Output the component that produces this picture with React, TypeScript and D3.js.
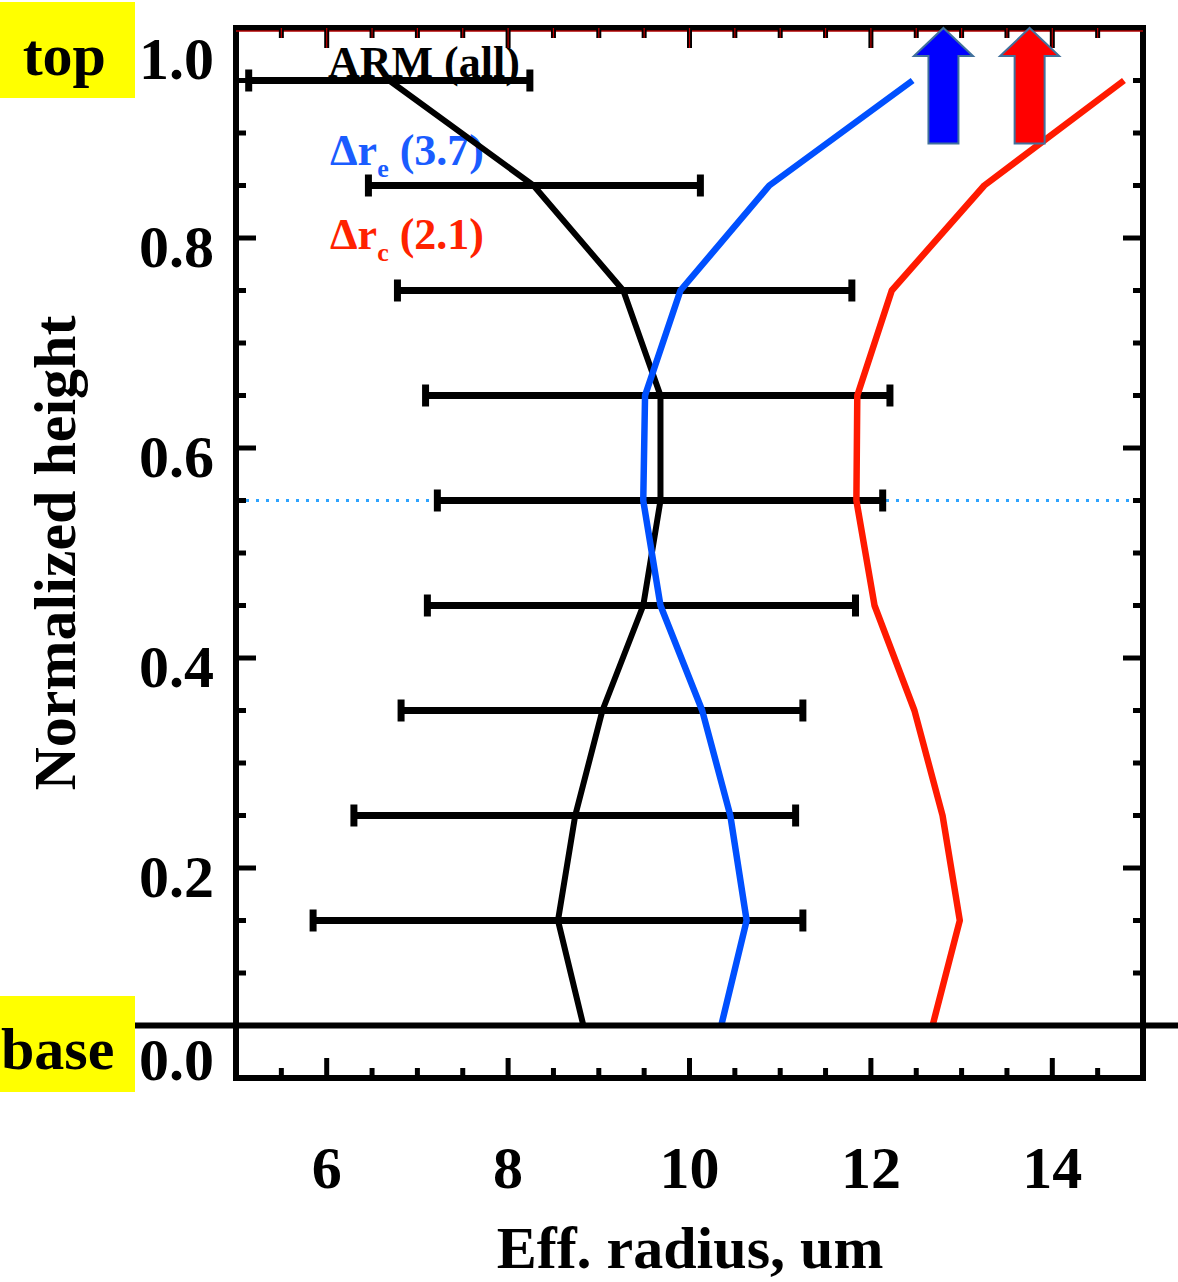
import React, { useEffect, useRef } from 'react';
import * as d3 from 'd3';

// heights (normalized) of the profile points, cloud base = 0.05
const levels = [0.95, 0.85, 0.75, 0.65, 0.55, 0.45, 0.35, 0.25, 0.15, 0.05];
// ARM (all) mean effective radius
const armMean = [6.69, 8.28, 9.27, 9.68, 9.68, 9.49, 9.04, 8.74, 8.55, 8.83];
// error bar ends (levels 0.95 .. 0.15)
const barLevels = [0.95, 0.85, 0.75, 0.65, 0.55, 0.45, 0.35, 0.25, 0.15];
const armLow = [5.14, 6.46, 6.78, 7.09, 7.22, 7.11, 6.82, 6.3, 5.85];
const armHigh = [8.24, 10.12, 11.79, 12.21, 12.13, 11.83, 11.25, 11.17, 11.25];
// shifted profiles
const reProfile = [12.46, 10.88, 9.9, 9.51, 9.49, 9.68, 10.14, 10.45, 10.63, 10.35];
const rcProfile = [14.79, 13.25, 12.23, 11.85, 11.84, 12.04, 12.48, 12.79, 12.98, 12.68];

const xTickLabels = [6, 8, 10, 12, 14];
const yTickLabels = [0.0, 0.2, 0.4, 0.6, 0.8, 1.0];
const dottedLevel = 0.55;
const baseLevel = 0.05;

// arrows at the top: x centre (um), tip and tail heights
const arrows = [
    { x: 12.8, color: '#0000ff' },
    { x: 13.75, color: '#ff0000' },
];
const arrowTip = 1.0;
const arrowTail = 0.89;

const FONT = '"Liberation Serif", "Times New Roman", serif';

function App() {
    const ref = useRef(null);

    useEffect(() => {
        drawChart(ref.current);
    }, []);

    return (
        <svg ref={ref} width={1178} height={1282}
            style={{ position: 'absolute', left: 0, top: 0, background: '#fff' }} />
    );
}

function drawChart(node) {
    const svg = d3.select(node);
    svg.selectAll('*').remove();

    const left = 236, right = 1143, top = 28, bottom = 1078;
    const x = d3.scaleLinear().domain([5, 15]).range([left, right]);
    const y = d3.scaleLinear().domain([0, 1]).range([bottom, top]);

    // yellow labels
    svg.append('rect').attr('x', 0).attr('y', 2).attr('width', 135).attr('height', 96).attr('fill', '#ffff00');
    svg.append('rect').attr('x', 0).attr('y', 996).attr('width', 135).attr('height', 96).attr('fill', '#ffff00');
    svg.append('text').attr('x', 106).attr('y', 75).attr('text-anchor', 'end')
        .attr('font-family', FONT).attr('font-weight', 'bold').attr('font-size', 60).text('top');
    svg.append('text').attr('x', 1).attr('y', 1069)
        .attr('font-family', FONT).attr('font-weight', 'bold').attr('font-size', 60).text('base');

    // legend texts
    svg.append('text').attr('x', 328).attr('y', 77)
        .attr('font-family', FONT).attr('font-weight', 'bold').attr('font-size', 44).attr('fill', '#000')
        .text('ARM (all)');
    const leg = [
        { txt: 'e', val: '(3.7)', color: '#1a5cff', yy: 165 },
        { txt: 'c', val: '(2.1)', color: '#ff2200', yy: 249 },
    ];
    leg.forEach((l) => {
        const t = svg.append('text').attr('x', 330).attr('y', l.yy)
            .attr('font-family', FONT).attr('font-weight', 'bold').attr('font-size', 44).attr('fill', l.color);
        t.append('tspan').text('\u0394r');
        t.append('tspan').attr('font-size', 26).attr('dy', 12).text(l.txt);
        t.append('tspan').attr('dy', -12).text(' ' + l.val);
    });

    // dotted line
    svg.append('line')
        .attr('x1', 246).attr('x2', right - 4)
        .attr('y1', y(dottedLevel)).attr('y2', y(dottedLevel))
        .attr('stroke', '#2ea3ff').attr('stroke-width', 3).attr('stroke-dasharray', '3 7');

    // error bars
    const bars = barLevels.map((h, i) => ({ h, lo: armLow[i], hi: armHigh[i] }));
    const bg = svg.append('g').attr('stroke', '#000');
    bg.selectAll('line.bar').data(bars).enter().append('line')
        .attr('class', 'bar')
        .attr('x1', (d) => x(d.lo)).attr('x2', (d) => x(d.hi))
        .attr('y1', (d) => y(d.h)).attr('y2', (d) => y(d.h))
        .attr('stroke-width', 7);
    bg.selectAll('line.capL').data(bars).enter().append('line')
        .attr('x1', (d) => x(d.lo)).attr('x2', (d) => x(d.lo))
        .attr('y1', (d) => y(d.h) - 11).attr('y2', (d) => y(d.h) + 11)
        .attr('stroke-width', 7);
    bg.selectAll('line.capR').data(bars).enter().append('line')
        .attr('x1', (d) => x(d.hi)).attr('x2', (d) => x(d.hi))
        .attr('y1', (d) => y(d.h) - 11).attr('y2', (d) => y(d.h) + 11)
        .attr('stroke-width', 7);

    // profile lines
    const line = d3.line().x((d) => x(d[0])).y((d) => y(d[1]));
    const series = [
        { vals: armMean, color: '#000000', w: 6 },
        { vals: reProfile, color: '#0050ff', w: 6.5 },
        { vals: rcProfile, color: '#ff1a00', w: 6.5 },
    ];
    series.forEach((s) => {
        svg.append('path')
            .attr('d', line(s.vals.map((v, i) => [v, levels[i]])))
            .attr('fill', 'none').attr('stroke', s.color).attr('stroke-width', s.w)
            .attr('stroke-linejoin', 'round');
    });

    // cloud base line
    svg.append('line')
        .attr('x1', 135).attr('x2', 1178)
        .attr('y1', y(baseLevel)).attr('y2', y(baseLevel))
        .attr('stroke', '#000').attr('stroke-width', 6);

    // frame
    svg.append('rect')
        .attr('x', left).attr('y', top).attr('width', right - left).attr('height', bottom - top)
        .attr('fill', 'none').attr('stroke', '#000').attr('stroke-width', 6);
    svg.append('line').attr('x1', left).attr('x2', right).attr('y1', top + 3).attr('y2', top + 3)
        .attr('stroke', '#b00000').attr('stroke-width', 1.5);

    // x ticks (bottom and top)
    const xt = d3.range(5.5, 15, 0.5);
    const isMajX = (v) => Math.abs(v % 2) < 1e-6;
    svg.append('g').selectAll('line').data(xt).enter().append('line')
        .attr('x1', (d) => x(d)).attr('x2', (d) => x(d))
        .attr('y1', bottom).attr('y2', (d) => bottom - (isMajX(d) ? 20 : 10))
        .attr('stroke', '#000').attr('stroke-width', 5);
    const topTicks = svg.append('g');
    topTicks.selectAll('line.k').data(xt).enter().append('line')
        .attr('x1', (d) => x(d)).attr('x2', (d) => x(d))
        .attr('y1', top).attr('y2', (d) => top + (isMajX(d) ? 20 : 10))
        .attr('stroke', '#000').attr('stroke-width', 5);
    topTicks.selectAll('line.r').data(xt).enter().append('line')
        .attr('x1', (d) => x(d)).attr('x2', (d) => x(d))
        .attr('y1', top).attr('y2', (d) => top + (isMajX(d) ? 20 : 10))
        .attr('stroke', '#c00000').attr('stroke-width', 1.2);

    // y ticks (left and right)
    const yt = d3.range(1, 20).map((i) => i * 0.05);
    const isMajY = (v) => Math.abs(Math.round(v * 100) % 20) === 0;
    const yg = svg.append('g').attr('stroke', '#000').attr('stroke-width', 5);
    yg.selectAll('line.l').data(yt).enter().append('line')
        .attr('x1', left).attr('x2', (d) => left + (isMajY(d) ? 20 : 10))
        .attr('y1', (d) => y(d)).attr('y2', (d) => y(d));
    yg.selectAll('line.r').data(yt).enter().append('line')
        .attr('x1', right).attr('x2', (d) => right - (isMajY(d) ? 20 : 10))
        .attr('y1', (d) => y(d)).attr('y2', (d) => y(d));

    // tick labels
    svg.append('g').selectAll('text').data(xTickLabels).enter().append('text')
        .attr('x', (d) => x(d)).attr('y', 1188).attr('text-anchor', 'middle')
        .attr('font-family', FONT).attr('font-weight', 'bold').attr('font-size', 60)
        .text((d) => d);
    const yLabelBase = (d) => (d >= 1 ? 79 : d <= 0 ? 1080 : y(d) + 29);
    svg.append('g').selectAll('text').data(yTickLabels).enter().append('text')
        .attr('x', 214).attr('y', yLabelBase).attr('text-anchor', 'end')
        .attr('font-family', FONT).attr('font-weight', 'bold').attr('font-size', 60)
        .text((d) => d3.format('.1f')(d));

    // axis titles
    svg.append('text').attr('x', 690).attr('y', 1268).attr('text-anchor', 'middle')
        .attr('font-family', FONT).attr('font-weight', 'bold').attr('font-size', 60)
        .text('Eff. radius, um');
    svg.append('text').attr('transform', 'translate(75,553) rotate(-90)').attr('text-anchor', 'middle')
        .attr('font-family', FONT).attr('font-weight', 'bold').attr('font-size', 60)
        .text('Normalized height');

    // arrows
    arrows.forEach((a) => {
        const cx = x(a.x), ty = y(arrowTip), by = y(arrowTail);
        const pts = [
            [cx, ty], [cx + 29.5, ty + 28], [cx + 15, ty + 28], [cx + 15, by],
            [cx - 15, by], [cx - 15, ty + 28], [cx - 29.5, ty + 28],
        ];
        svg.append('polygon')
            .attr('points', pts.map((p) => p.join(',')).join(' '))
            .attr('fill', a.color).attr('stroke', '#41719c').attr('stroke-width', 2);
    });
}

export default App;
